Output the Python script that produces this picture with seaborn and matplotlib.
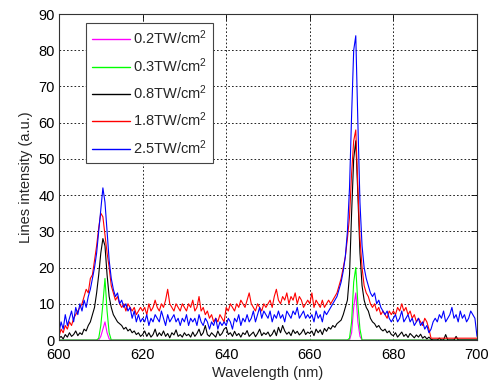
import numpy as np
import pandas as pd
import matplotlib
matplotlib.use("Agg")
import matplotlib.pyplot as plt
import seaborn as sns

# wavelength grid (nm), 0.5 nm step, 600..700
wavelength = np.linspace(600, 700, 201)

labels = ["0.2TW/cm$^2$", "0.3TW/cm$^2$", "0.8TW/cm$^2$", "1.8TW/cm$^2$", "2.5TW/cm$^2$"]
colors = ["#ff00ff", "#00ff00", "#000000", "#ff0000", "#0000ff"]

i_02 = [
    0, 0, 0, 0, 0, 0, 0, 0, 0, 0, 0, 0, 0, 0, 0, 0, 0, 0, 0, 0,
    1, 3, 5, 2, 0.3, 0, 0, 0, 0, 0, 0, 0, 0, 0, 0, 0, 0, 0, 0, 0,
    0, 0, 0, 0, 0, 0, 0, 0, 0, 0, 0, 0, 0, 0, 0, 0, 0, 0, 0, 0,
    0, 0, 0, 0, 0, 0, 0, 0, 0, 0, 0, 0, 0, 0, 0, 0, 0, 0, 0, 0,
    0, 0, 0, 0, 0, 0, 0, 0, 0, 0, 0, 0, 0, 0, 0, 0, 0, 0, 0, 0,
    0, 0, 0, 0, 0, 0, 0, 0, 0, 0, 0, 0, 0, 0, 0, 0, 0, 0, 0, 0,
    0, 0, 0, 0, 0, 0, 0, 0, 0, 0, 0, 0, 0, 0, 0, 0, 0, 0, 0, 0,
    2, 9, 13, 5, 1, 0, 0, 0, 0, 0, 0, 0, 0, 0, 0, 0, 0, 0, 0, 0,
    0, 0, 0, 0, 0, 0, 0, 0, 0, 0, 0, 0, 0, 0, 0, 0, 0, 0, 0, 0,
    0, 0, 0, 0, 0, 0, 0, 0, 0, 0, 0, 0, 0, 0, 0, 0, 0, 0, 0, 0,
    0,
]

i_03 = [
    0, 0, 0, 0, 0, 0, 0, 0, 0, 0, 0, 0, 0, 0, 0, 0, 0, 0, 0, 0.5,
    4, 10, 17, 8, 2, 0, 0, 0, 0, 0, 0, 0, 0, 0, 0, 0, 0, 0, 0, 0,
    0, 0, 0, 0, 0, 0, 0, 0, 0, 0, 0, 0, 0, 0, 0, 0, 0, 0, 0, 0,
    0, 0, 0, 0, 0, 0, 0, 0, 0, 0, 0, 0, 0, 0, 0, 0, 0, 0, 0, 0,
    0, 0, 0, 0, 0, 0, 0, 0, 0, 0, 0, 0, 0, 0, 0, 0, 0, 0, 0, 0,
    0, 0, 0, 0, 0, 0, 0, 0, 0, 0, 0, 0, 0, 0, 0, 0, 0, 0, 0, 0,
    0, 0, 0, 0, 0, 0, 0, 0, 0, 0, 0, 0, 0, 0, 0, 0, 0, 0, 0, 0.5,
    5, 16, 20, 10, 3, 0, 0, 0, 0, 0, 0, 0, 0, 0, 0, 0, 0, 0, 0, 0,
    0, 0, 0, 0, 0, 0, 0, 0, 0, 0, 0, 0, 0, 0, 0, 0, 0, 0, 0, 0,
    0, 0, 0, 0, 0, 0, 0, 0, 0, 0, 0, 0, 0, 0, 0, 0, 0, 0, 0, 0,
    0,
]

i_08 = [
    0.5, 1, 0.3, 1.5, 0.8, 2, 1, 1.5, 2.5, 1.2, 2, 1.5, 3, 2.5, 4, 5, 7, 9, 13, 18,
    24, 28, 26, 18, 12, 9, 7, 6, 5, 4.5, 4, 3, 3.5, 2.5, 3, 2, 2.5, 1.5, 2, 1,
    1.5, 2.5, 1, 2, 0.8, 1.5, 3, 1, 2, 1.2, 2.5, 1, 1.8, 0.6, 2, 1.4, 2.8, 1, 1.5, 0.8,
    2, 1.2, 1.6, 0.8, 2.2, 1, 1.8, 3, 1.2, 2, 4, 1.5, 1, 2, 1.4, 0.8, 2.5, 1.2, 1.8, 3,
    3.5, 1.5, 2, 1, 2.4, 1.2, 1.8, 0.8, 2, 1.5, 2.6, 1, 1.6, 2.2, 0.9, 1.8, 3, 1.2, 2, 1.5,
    2.2, 1, 1.6, 2.8, 1.2, 3.5, 2, 4, 2.5, 1.6, 2.2, 1.2, 2.8, 1.8, 2.4, 1.4, 2, 3, 1.5, 2.2,
    1.8, 2.5, 1.2, 3, 2, 2.8, 1.5, 3.2, 2.4, 3.5, 3, 4, 3.5, 4.5, 5, 5.5, 7, 9, 11, 18,
    35, 50, 55, 40, 24, 15, 11, 9, 8, 6, 5, 4.5, 3.5, 4, 3, 2.5, 3, 2, 2.5, 1.5,
    1.2, 2, 0.8, 1.5, 2.2, 1, 1.6, 0.7, 1.8, 1.2, 0.6, 1.4, 0.8, 1.6, 0.5, 1, 0.3, 0.8, 0.2, 0,
    0, 0, 0.5, 0, 0, 1.5, 0, 0, 0, 0, 1, 0, 0, 0, 0, 0, 0, 0, 0, 0,
    0,
]

i_18 = [
    1, 3, 2, 4, 3, 5, 4, 6, 7, 8, 9, 10, 12, 14, 13, 17, 18, 22, 26, 31,
    35, 34, 29, 24, 20, 15, 13, 11, 12, 10, 9, 10, 8, 10, 9, 8, 9, 7, 8, 9,
    8, 9, 7, 10, 8, 9, 11, 9, 8, 10, 9, 11, 14, 10, 9, 8, 10, 9, 8, 10,
    9, 8, 10, 9, 11, 8, 9, 12, 8, 9, 7, 8, 6, 7, 5, 6, 5, 7, 6, 5,
    9, 8, 10, 9, 8, 10, 9, 11, 10, 9, 11, 13, 10, 9, 8, 10, 9, 8, 10, 9,
    10, 11, 9, 12, 14, 11, 10, 12, 11, 13, 10, 12, 11, 13, 10, 12, 11, 9, 10, 11,
    10, 13, 9, 11, 10, 9, 11, 9, 10, 11, 10, 11, 12, 13, 15, 17, 20, 23, 28, 34,
    46, 55, 58, 42, 28, 20, 15, 13, 12, 10, 9, 10, 8, 9, 7, 8, 7, 6, 8, 7,
    8, 7, 9, 8, 10, 8, 9, 7, 8, 6, 7, 5, 6, 5, 4, 6, 5, 3, 0.5, 0.5,
    0.5, 0.5, 0.5, 0.5, 0.5, 0.5, 0.5, 0.5, 0.5, 0.5, 0.5, 0.5, 0.5, 0.5, 0.5, 0.5, 0.5, 0.5, 0.5, 0.5,
    0.5,
]

i_25 = [
    2, 5, 3, 7, 4, 6, 8, 5, 9, 7, 10, 8, 11, 9, 12, 14, 17, 20, 24, 30,
    36, 42, 38, 30, 22, 17, 14, 12, 13, 10, 11, 9, 10, 8, 9, 6, 8, 5, 7, 5,
    6, 5, 7, 4, 6, 5, 7, 6, 5, 8, 6, 4, 7, 5, 6, 7, 5, 6, 4, 6,
    5, 7, 4, 6, 5, 6, 4, 7, 5, 4, 6, 5, 3, 5, 4, 6, 3, 5, 4, 5,
    4, 6, 5, 3, 6, 5, 7, 4, 6, 5, 7, 5, 6, 8, 5, 7, 9, 6, 8, 7,
    6, 8, 5, 7, 6, 8, 6, 7, 5, 8, 7, 6, 8, 7, 9, 6, 7, 8, 6, 7,
    6, 7, 5, 8, 6, 7, 5, 8, 7, 8, 9, 10, 11, 12, 14, 16, 19, 23, 30, 42,
    62, 80, 84, 60, 38, 26, 20, 17, 15, 13, 12, 13, 10, 11, 9, 8, 7, 8, 6, 5,
    6, 7, 5, 6, 8, 5, 6, 7, 5, 6, 4, 5, 6, 4, 5, 3, 4, 2, 3, 5,
    6, 5, 7, 6, 8, 5, 6, 7, 9, 6, 7, 5, 8, 6, 7, 5, 6, 8, 7, 6,
    1,
]

series = [i_02, i_03, i_08, i_18, i_25]
df = pd.concat(
    [pd.DataFrame({"wavelength": wavelength, "intensity": s, "power": lab})
     for s, lab in zip(series, labels)],
    ignore_index=True,
)

sns.set_style("white")
plt.rcParams["font.family"] = ["Liberation Sans", "DejaVu Sans"]
plt.rcParams["mathtext.default"] = "regular"
fs = 10.5

fig = plt.figure(figsize=(4.94, 3.83), dpi=100)
ax = fig.add_axes([59 / 494, 43 / 383, 418 / 494, 326 / 383])

sns.lineplot(data=df, x="wavelength", y="intensity", hue="power",
             hue_order=labels, palette=colors, estimator=None, sort=False,
             linewidth=0.8, ax=ax)

ax.set_xlim(600, 700)
ax.set_ylim(0, 90)
ax.set_xticks(np.arange(600, 701, 20))
ax.set_yticks(np.arange(0, 91, 10))
ax.set_xlabel("Wavelength (nm)", fontsize=fs, labelpad=3)
ax.set_ylabel("Lines intensity (a.u.)", fontsize=fs, labelpad=4)
ax.tick_params(direction="in", length=4, width=0.6, labelsize=fs,
               top=True, right=True, pad=3, colors="black")
ax.tick_params(axis="x", pad=6)
ax.grid(True, color="black", linestyle=(0, (2, 2.5)), linewidth=0.6)
for sp in ax.spines.values():
    sp.set_visible(True)
    sp.set_color("#333333")
    sp.set_linewidth(0.8)

leg = ax.legend(loc="upper left", bbox_to_anchor=(27 / 418, 317 / 326),
                borderaxespad=0, fontsize=fs, frameon=True, fancybox=False,
                framealpha=1, edgecolor="#444444", handlelength=2.6,
                handletextpad=0.25, labelspacing=0.6, borderpad=0.4)
leg.get_frame().set_linewidth(0.8)
for line in leg.get_lines():
    line.set_linewidth(1.0)

fig.savefig("out.png", dpi=100)
